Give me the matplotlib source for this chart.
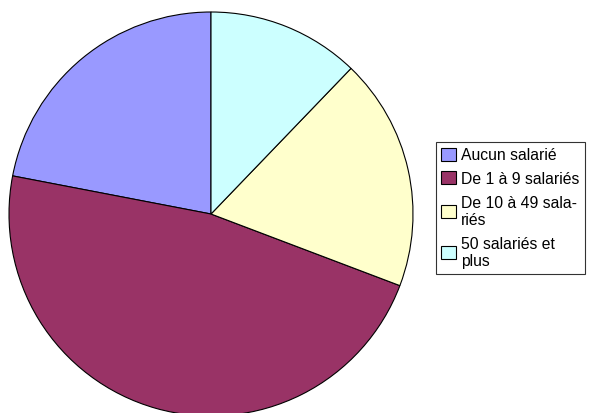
import matplotlib
matplotlib.use('Agg')
import matplotlib.pyplot as plt

plt.rcParams['font.family'] = ['Liberation Sans', 'DejaVu Sans']

categories = ['Aucun salarié', 'De 1 à 9 salariés', 'De 10 à 49 sala-\nriés', '50 salariés et\nplus']
shares = [22.0, 47.3, 18.6, 12.2]
colours = ['#9999FF', '#993366', '#FFFFCC', '#CCFFFF']

W, H = 589, 414
fig = plt.figure(figsize=(W / 100, H / 100), dpi=100)

# pie centre ~ (211, 215) px, radius ~ 202 px
cx, cy, r = 211, 215, 202
ax = fig.add_axes([(cx - r) / W, (H - cy - r) / H, 2 * r / W, 2 * r / H])
wedges, _ = ax.pie(shares, colors=colours, startangle=90, counterclock=True,
                   wedgeprops=dict(edgecolor='black', linewidth=0.8), radius=1)
ax.set_xlim(-1, 1)
ax.set_ylim(-1, 1)
ax.set_aspect('equal')
ax.axis('off')

leg = fig.legend(wedges, categories, loc='upper left',
                 bbox_to_anchor=(436 / W, 1 - 143 / H),
                 fontsize=11.3, frameon=True, fancybox=False, edgecolor='black',
                 handlelength=0.9, handleheight=0.9, handletextpad=0.35,
                 labelspacing=0.55, borderpad=0.35, borderaxespad=0)
leg.get_frame().set_linewidth(0.8)

fig.savefig('out.png', dpi=100)
